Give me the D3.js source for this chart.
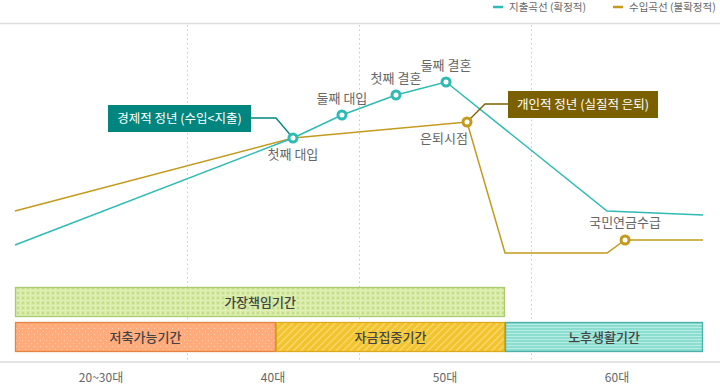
<!DOCTYPE html>
<html><head><meta charset="utf-8">
<script src="https://cdn.jsdelivr.net/npm/d3@7"></script>
<style>
body{margin:0;background:#fff;}
svg{display:block;font-family:"Noto Sans CJK KR","Noto Sans",sans-serif;}
</style></head>
<body>
<svg id="chart" width="720" height="384"></svg>
<script>
// ---- data ----
const categories = ["20~30대", "40대", "50대", "60대"];
// x in stage units (0 = start of 20~30대, 4 = end of 60대), y in relative level
const spendX = [0, 1.616, 1.901, 2.215, 2.506, 3.442, 4];
const spendY = [8.5, 62, 73.5, 83.5, 90, 25.5, 23.5];
const spendMarkers = [1, 2, 3, 4];
const spendLabels = ["", "첫째 대입", "둘째 대입", "첫째 결혼", "둘째 결혼", "", ""];
const incomeX = [0, 1.616, 2.628, 2.849, 3.442, 3.547, 4];
const incomeY = [25.5, 62, 70, 4.5, 4.5, 11, 11];
const incomeMarkers = [2, 5];
const incomeLabels = ["", "", "은퇴시점", "", "", "국민연금수급", ""];
const seriesNames = ["지출곡선 (확정적)", "수입곡선 (불확정적)"];
const periodNames = ["가장책임기간", "저축가능기간", "자금집중기간", "노후생활기간"];
const periodStart = [0, 0, 1.517, 2.849];
const periodEnd = [2.849, 1.517, 2.849, 4];
const periodRow = [0, 1, 1, 1];
const notes = ["경제적 정년 (수입<지출)", "개인적 정년 (실질적 은퇴)"];

// ---- layout ----
const svg = d3.select("#chart");
const x = d3.scaleLinear().domain([0, categories.length]).range([15, 703]);
const band = d3.scaleBand().domain(categories).range([15, 703]);
const y = d3.scaleLinear().domain([0, 100]).range([262, 62]);

const teal = "#2fbab4", gold = "#c39a1c";

// patterns
const defs = svg.append("defs");
let p = defs.append("pattern").attr("id","pGreen").attr("width",5).attr("height",5).attr("patternUnits","userSpaceOnUse");
p.append("rect").attr("width",5).attr("height",5).attr("fill","#d5e9a3");
p.append("rect").attr("x",0).attr("y",0).attr("width",5).attr("height",1).attr("fill","#dff0b6");
p.append("rect").attr("x",0).attr("y",0).attr("width",1).attr("height",5).attr("fill","#dff0b6");
p.append("rect").attr("x",2).attr("y",2).attr("width",2).attr("height",2).attr("fill","#c3de86");
p = defs.append("pattern").attr("id","pOrange").attr("width",6).attr("height",6).attr("patternUnits","userSpaceOnUse");
p.append("rect").attr("width",6).attr("height",6).attr("fill","#ffab7c");
p.append("rect").attr("x",1).attr("y",1).attr("width",1).attr("height",1).attr("fill","#ffd2b6");
p.append("rect").attr("x",4).attr("y",4).attr("width",1).attr("height",1).attr("fill","#ffd2b6");
p = defs.append("pattern").attr("id","pYellow").attr("width",5).attr("height",5).attr("patternUnits","userSpaceOnUse").attr("patternTransform","rotate(-45)");
p.append("rect").attr("width",5).attr("height",5).attr("fill","#f3c32d");
p.append("rect").attr("width",5).attr("height",1.2).attr("fill","#f8dc7a");
p = defs.append("pattern").attr("id","pTeal").attr("width",4).attr("height",3).attr("patternUnits","userSpaceOnUse");
p.append("rect").attr("width",4).attr("height",3).attr("fill","#8bddd0");
p.append("rect").attr("width",4).attr("height",1).attr("fill","#b8ede4");

// top border line
svg.append("line").attr("x1",0).attr("x2",720).attr("y1",23.5).attr("y2",23.5).attr("stroke","#dddddd").attr("stroke-width",1.5);

// dotted vertical grid
const gridXs = d3.range(1, categories.length).map(i => x(i));
svg.selectAll(".grid").data(gridXs).join("line")
  .attr("x1", d=>Math.round(d)+0.5).attr("x2", d=>Math.round(d)+0.5)
  .attr("y1", 25).attr("y2", 362)
  .attr("stroke","#c8c8c8").attr("stroke-dasharray","1.5,3");

// period bars
const fills = ["url(#pGreen)","url(#pOrange)","url(#pYellow)","url(#pTeal)"];
const borders = ["#a9cc6e","#e5843f","#dcaa1c","#4cb0a8"];
const rowY = [287, 322], rowH = 29;
periodNames.forEach((name,i)=>{
  const x0 = x(periodStart[i]), x1 = x(periodEnd[i]);
  svg.append("rect").attr("x",x0+0.5).attr("y",rowY[periodRow[i]]+0.5)
    .attr("width",x1-x0-1).attr("height",rowH)
    .attr("fill",fills[i]).attr("stroke",borders[i]).attr("stroke-width",1.3);
  svg.append("text").attr("x",(x0+x1)/2).attr("y",rowY[periodRow[i]]+rowH/2+5)
    .attr("text-anchor","middle").attr("font-size",13).attr("font-weight",500).attr("fill","#444")
    .text(name);
});

// x axis
svg.append("line").attr("x1",0).attr("x2",720).attr("y1",362).attr("y2",362).attr("stroke","#dddddd").attr("stroke-width",1.5);
svg.selectAll(".xl").data(categories).join("text")
  .attr("x", d=>band(d)+band.bandwidth()/2).attr("y",382)
  .attr("text-anchor","middle").attr("font-size",12).attr("fill","#666").text(d=>d);

// lines
const line = d3.line().x(d=>x(d[0])).y(d=>y(d[1]));
const spend = spendX.map((v,i)=>[v,spendY[i]]);
const income = incomeX.map((v,i)=>[v,incomeY[i]]);
svg.append("path").attr("d",line(income)).attr("fill","none").attr("stroke",gold).attr("stroke-width",1.5);
svg.append("path").attr("d",line(spend)).attr("fill","none").attr("stroke",teal).attr("stroke-width",1.5);

// annotation callouts
function callout(px,py,pts,bx,by,bw,bh,color,text){
  svg.append("polyline").attr("points",pts.map(p=>p.join(",")).join(" ")+" "+px+","+py)
    .attr("fill","none").attr("stroke",color).attr("stroke-width",1.3);
  svg.append("rect").attr("x",bx).attr("y",by).attr("width",bw).attr("height",bh).attr("fill",color);
  svg.append("text").attr("x",bx+bw/2).attr("y",by+bh/2+4.5).attr("text-anchor","middle")
    .attr("font-size",12.5).attr("fill","#fff").text(text);
}
{
  const px = x(spendX[1]), py = y(spendY[1]);
  callout(px,py,[[251,118],[276,118]],108,105,143,27,"#00857f",notes[0]);
  const qx = x(incomeX[2]), qy = y(incomeY[2]);
  callout(qx,qy,[[508,104],[485,104]],508,91,150,27,"#7b6000",notes[1]);
}

// markers
function markers(data, idx, color){
  svg.selectAll(null).data(idx).join("circle")
    .attr("cx", i=>x(data[i][0])).attr("cy", i=>y(data[i][1])).attr("r",4)
    .attr("fill","#fff").attr("stroke",color).attr("stroke-width",3);
}
markers(spend, spendMarkers, teal);
markers(income, incomeMarkers, gold);

// point labels
const labelStyle = s => s.attr("text-anchor","middle").attr("font-size",13).attr("fill","#666");
spend.forEach((d,i)=>{
  if(!spendLabels[i]) return;
  const below = i===1;
  svg.append("text").attr("x",x(d[0])).attr("y",y(d[1]) + (below?21:-12)).call(labelStyle).text(spendLabels[i]);
});
income.forEach((d,i)=>{
  if(!incomeLabels[i]) return;
  const below = i===2;
  svg.append("text").attr("x",x(d[0]) + (below?-23:0)).attr("y",y(d[1]) + (below?21:-13)).call(labelStyle).text(incomeLabels[i]);
});

// legend
const leg = [[493,teal],[613,gold]];
seriesNames.forEach((n,i)=>{
  svg.append("line").attr("x1",leg[i][0]).attr("x2",leg[i][0]+10).attr("y1",7).attr("y2",7).attr("stroke",leg[i][1]).attr("stroke-width",2.5);
  svg.append("text").attr("x",leg[i][0]+16).attr("y",11).attr("font-size",10.5).attr("fill","#666").text(n);
});
</script>
</body></html>
